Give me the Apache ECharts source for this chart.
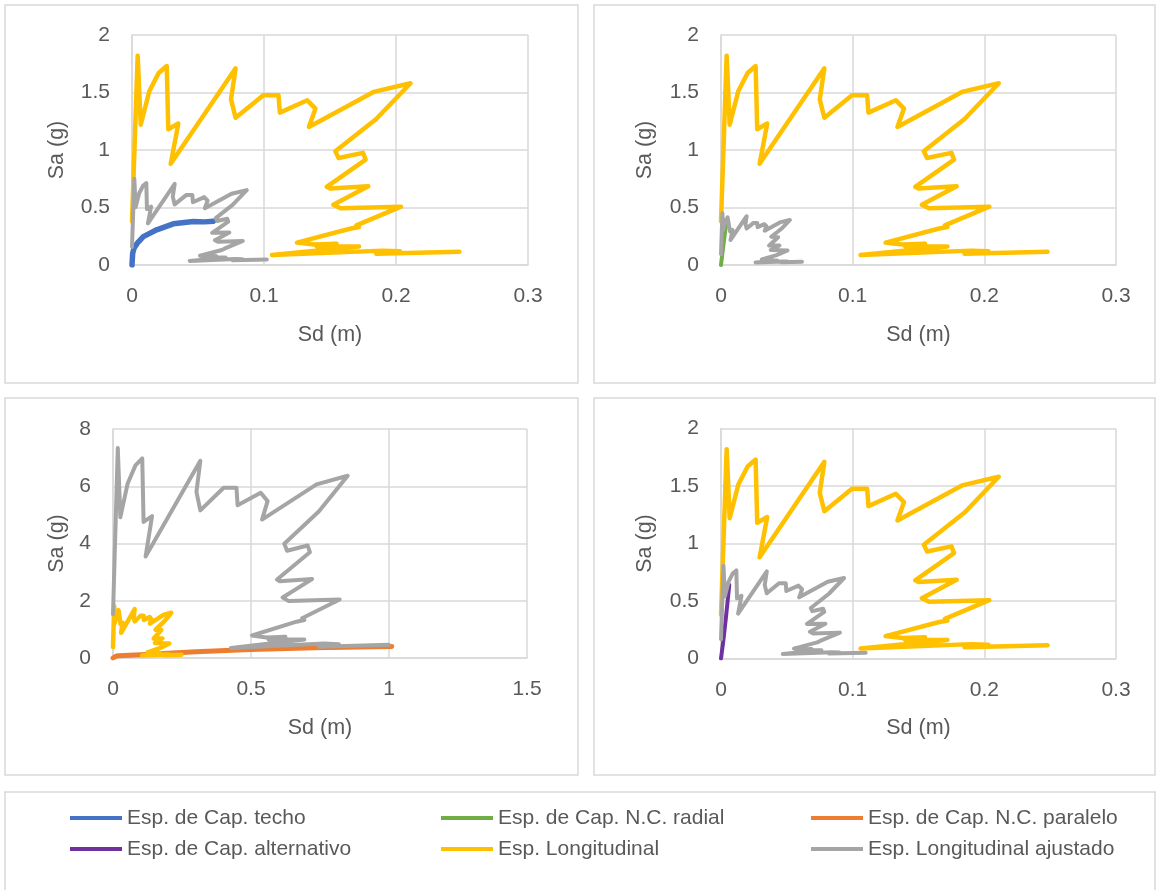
<!DOCTYPE html>
<html>
<head>
<meta charset="utf-8">
<script src="https://cdn.jsdelivr.net/npm/echarts/dist/echarts.min.js"></script>
<style>
html,body{margin:0;padding:0;background:#fff;}
#chart{width:1156px;height:890px;}
</style>
</head>
<body>
<div id="chart"></div>
<script>
// ---- Data (Sd in m, Sa in g) ----
var seriesNames = [
  "Esp. de Cap. techo",
  "Esp. de Cap. N.C. radial",
  "Esp. de Cap. N.C. paralelo",
  "Esp. de Cap. alternativo",
  "Esp. Longitudinal",
  "Esp. Longitudinal ajustado"
];
var xAxisTitle = "Sd (m)";
var yAxisTitle = "Sa (g)";

// Capacity curves
var capTecho = [[0,0],[0.0005,0.10],[0.0015,0.145],[0.004,0.19],[0.0086,0.247],[0.0187,0.306],[0.0313,0.358],[0.0465,0.378],[0.055,0.375],[0.0616,0.38]];
var capRadial = [[0,0],[0.001,0.10],[0.002,0.19],[0.003,0.28],[0.0042,0.38]];
var capParalelo = [[0,0],[0.01,0.06],[0.02,0.08],[0.1,0.11],[0.3,0.22],[0.5,0.30],[0.73,0.36],[1.01,0.40]];
var capAlternativo = [[0,0],[0.0018,0.158],[0.0038,0.362],[0.0063,0.64]];

// Longitudinal spectrum (same in all panels)
var espLongitudinal = [[0,0.38],[0.0043,1.82],[0.0066,1.22],[0.0131,1.51],[0.0202,1.67],[0.0263,1.73],[0.0275,1.18],[0.0351,1.23],[0.0293,0.88],[0.0785,1.71],[0.075,1.44],[0.0785,1.28],[0.0995,1.476],[0.111,1.476],[0.112,1.325],[0.1328,1.432],[0.139,1.36],[0.134,1.20],[0.183,1.505],[0.211,1.58],[0.185,1.27],[0.154,0.99],[0.1565,0.93],[0.175,0.975],[0.177,0.917],[0.1475,0.68],[0.150,0.665],[0.179,0.684],[0.1525,0.524],[0.158,0.493],[0.2038,0.507],[0.170,0.345],[0.172,0.33],[0.165,0.315],[0.125,0.195],[0.138,0.178],[0.155,0.185],[0.140,0.16],[0.172,0.16],[0.106,0.087],[0.190,0.125],[0.203,0.12],[0.185,0.098],[0.248,0.115]];

// Adjusted longitudinal spectrum, one per panel
var ajustadoP1 = [[0,0.157],[0.00177,0.750],[0.00272,0.503],[0.0054,0.622],[0.00832,0.688],[0.01084,0.713],[0.01133,0.486],[0.01446,0.507],[0.01207,0.363],[0.03234,0.705],[0.0309,0.593],[0.03234,0.527],[0.041,0.608],[0.04573,0.608],[0.04614,0.546],[0.05471,0.590],[0.05727,0.560],[0.05521,0.494],[0.0754,0.620],[0.08693,0.651],[0.07622,0.523],[0.06345,0.408],[0.06448,0.383],[0.0721,0.402],[0.07292,0.378],[0.06077,0.280],[0.0618,0.274],[0.07375,0.282],[0.06283,0.216],[0.0651,0.203],[0.08397,0.209],[0.07004,0.142],[0.07086,0.136],[0.06798,0.130],[0.0515,0.080],[0.05686,0.0733],[0.06386,0.0762],[0.05768,0.0659],[0.07086,0.0659],[0.04367,0.0358],[0.07828,0.0515],[0.08364,0.0494],[0.07622,0.0404],[0.10218,0.0474]];
var ajustadoP2 = [[0,0.094],[0.00107,0.451],[0.00164,0.303],[0.00325,0.374],[0.00501,0.414],[0.00652,0.429],[0.00682,0.293],[0.0087,0.305],[0.00727,0.218],[0.01947,0.424],[0.0186,0.357],[0.01947,0.317],[0.02468,0.366],[0.02753,0.366],[0.02778,0.329],[0.03293,0.355],[0.03447,0.337],[0.03323,0.298],[0.04538,0.373],[0.05233,0.392],[0.04588,0.315],[0.03819,0.246],[0.03881,0.231],[0.0434,0.242],[0.0439,0.227],[0.03658,0.169],[0.0372,0.165],[0.04439,0.170],[0.03782,0.130],[0.03918,0.122],[0.05054,0.126],[0.04216,0.0856],[0.04266,0.0818],[0.04092,0.0781],[0.031,0.0484],[0.03422,0.0441],[0.03844,0.0459],[0.03472,0.0397],[0.04266,0.0397],[0.02629,0.0216],[0.04712,0.031],[0.05034,0.0298],[0.04588,0.0243],[0.0615,0.0285]];
var ajustadoP3 = [[0,1.531],[0.01733,7.335],[0.0266,4.917],[0.05279,6.085],[0.08141,6.730],[0.106,6.972],[0.1108,4.755],[0.1415,4.957],[0.1181,3.546],[0.3164,6.891],[0.3023,5.803],[0.3164,5.158],[0.401,5.948],[0.4473,5.948],[0.4514,5.340],[0.5352,5.771],[0.5602,5.481],[0.54,4.836],[0.7375,6.065],[0.8503,6.367],[0.7456,5.118],[0.6206,3.990],[0.6307,3.748],[0.7053,3.929],[0.7133,3.696],[0.5944,2.740],[0.6045,2.680],[0.7214,2.757],[0.6146,2.112],[0.6367,1.987],[0.8213,2.043],[0.6851,1.390],[0.6932,1.330],[0.665,1.269],[0.5038,0.786],[0.5561,0.717],[0.6247,0.746],[0.5642,0.645],[0.6932,0.645],[0.4272,0.351],[0.7657,0.504],[0.8181,0.484],[0.7456,0.395],[0.9994,0.463]];
var ajustadoP4 = [[0,0.168],[0.0019,0.806],[0.00292,0.540],[0.0058,0.669],[0.00895,0.740],[0.01165,0.766],[0.01218,0.523],[0.01555,0.545],[0.01298,0.390],[0.03478,0.758],[0.03323,0.638],[0.03478,0.567],[0.04408,0.654],[0.04917,0.654],[0.04962,0.587],[0.05883,0.634],[0.06158,0.602],[0.05936,0.532],[0.08107,0.667],[0.09347,0.700],[0.08196,0.563],[0.06822,0.439],[0.06933,0.412],[0.07753,0.432],[0.07841,0.406],[0.06534,0.301],[0.06645,0.295],[0.0793,0.303],[0.06756,0.232],[0.07,0.218],[0.09028,0.225],[0.07531,0.153],[0.0762,0.146],[0.0731,0.140],[0.05538,0.0864],[0.06113,0.0789],[0.06867,0.082],[0.06202,0.0709],[0.0762,0.0709],[0.04696,0.0385],[0.08417,0.0554],[0.08993,0.0532],[0.08196,0.0434],[0.10986,0.0509]];

// Axis ranges per panel [xMax, xInterval, yMax, yInterval]
var axisP1 = [0.3, 0.1, 2, 0.5];
var axisP2 = [0.3, 0.1, 2, 0.5];
var axisP3 = [1.5, 0.5, 8, 2];
var axisP4 = [0.3, 0.1, 2, 0.5];

// ---- Styling / layout ----
var FONT = "'Liberation Sans', Arial, sans-serif";
var TXT = '#595959';
var GRID = '#d9d9d9';
var colors = {
  "Esp. de Cap. techo": '#4472C4',
  "Esp. de Cap. N.C. radial": '#70AD47',
  "Esp. de Cap. N.C. paralelo": '#ED7D31',
  "Esp. de Cap. alternativo": '#7030A0',
  "Esp. Longitudinal": '#FFC000',
  "Esp. Longitudinal ajustado": '#A5A5A5'
};
var widths = {
  "Esp. de Cap. techo": 5.5,
  "Esp. de Cap. N.C. radial": 4,
  "Esp. de Cap. N.C. paralelo": 5,
  "Esp. de Cap. alternativo": 4,
  "Esp. Longitudinal": 4.5,
  "Esp. Longitudinal ajustado": 4
};

var grids = [
  {left:132, top:35, width:396, height:230},
  {left:721, top:35, width:395, height:230},
  {left:113, top:429, width:414, height:229},
  {left:721, top:428.5, width:395, height:230}
];
var yNameGaps = [64, 65, 45, 65];
var axes = [axisP1, axisP2, axisP3, axisP4];

var xAxes = [], yAxes = [];
axes.forEach(function(a, i){
  xAxes.push({
    type:'value', gridIndex:i, min:0, max:a[0], interval:a[1],
    name:xAxisTitle, nameLocation:'middle', nameGap:59,
    nameTextStyle:{fontFamily:FONT, fontSize:21.5, color:TXT},
    axisLine:{show:true, onZero:false, lineStyle:{color:GRID, width:1.5}},
    axisTick:{show:false},
    axisLabel:{fontFamily:FONT, fontSize:21, color:TXT, margin:21},
    splitLine:{show:true, lineStyle:{color:GRID, width:1.5}}
  });
  yAxes.push({
    type:'value', gridIndex:i, min:0, max:a[2], interval:a[3],
    name:yAxisTitle, nameLocation:'middle', nameGap:yNameGaps[i],
    nameTextStyle:{fontFamily:FONT, fontSize:21.5, color:TXT},
    axisLine:{show:true, onZero:false, lineStyle:{color:GRID, width:1.5}},
    axisTick:{show:false},
    axisLabel:{fontFamily:FONT, fontSize:21, color:TXT, margin:22},
    splitLine:{show:true, lineStyle:{color:GRID, width:1.5}}
  });
});

function mk(name, data, idx){
  return {
    type:'line', name:name, data:data, xAxisIndex:idx, yAxisIndex:idx,
    showSymbol:false, symbol:'none', smooth:false, silent:true,
    color:colors[name],
    lineStyle:{color:colors[name], width:widths[name], join:'round', cap:'round'}
  };
}

var series = [
  mk(seriesNames[0], capTecho, 0),
  mk(seriesNames[4], espLongitudinal, 0),
  mk(seriesNames[5], ajustadoP1, 0),
  mk(seriesNames[1], capRadial, 1),
  mk(seriesNames[4], espLongitudinal, 1),
  mk(seriesNames[5], ajustadoP2, 1),
  mk(seriesNames[2], capParalelo, 2),
  mk(seriesNames[4], espLongitudinal, 2),
  mk(seriesNames[5], ajustadoP3, 2),
  mk(seriesNames[3], capAlternativo, 3),
  mk(seriesNames[4], espLongitudinal, 3),
  mk(seriesNames[5], ajustadoP4, 3)
];

var legendPos = [[70,806],[441,806],[811,806],[70,837],[441,837],[811,837]];
var legends = seriesNames.map(function(n, i){
  return {
    data:[n], left:legendPos[i][0], top:legendPos[i][1], padding:0,
    orient:'horizontal', icon:'rect', itemWidth:52, itemHeight:4,
    selectedMode:false,
    textStyle:{fontFamily:FONT, fontSize:21, color:TXT, lineHeight:24}
  };
});

var boxStyle = {fill:'#fff', stroke:GRID, lineWidth:1.5};
var graphic = [
  {type:'rect', z:-10, shape:{x:5, y:5, width:573, height:378}, style:boxStyle, silent:true},
  {type:'rect', z:-10, shape:{x:594, y:5, width:561, height:378}, style:boxStyle, silent:true},
  {type:'rect', z:-10, shape:{x:5, y:398, width:573, height:377}, style:boxStyle, silent:true},
  {type:'rect', z:-10, shape:{x:594, y:398, width:561, height:377}, style:boxStyle, silent:true},
  {type:'rect', z:-10, shape:{x:5, y:792, width:1150, height:110}, style:boxStyle, silent:true}
];

var chart = echarts.init(document.getElementById('chart'), null, {renderer:'canvas'});
chart.setOption({
  animation:false,
  backgroundColor:'#fff',
  grid:grids,
  xAxis:xAxes,
  yAxis:yAxes,
  legend:legends,
  graphic:graphic,
  series:series
});
</script>
</body>
</html>
